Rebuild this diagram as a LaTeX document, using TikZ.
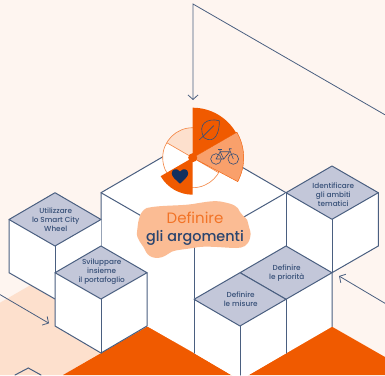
\documentclass[tikz,border=0pt]{standalone}
\usepackage{fontspec}
\setmainfont{Poppins}
\newfontfamily\MediumFont{Poppins Medium}
\usepackage{xcolor}
\usetikzlibrary{arrows.meta}
\definecolor{ColBack}{RGB}{254,245,240}
\definecolor{ColPeach}{RGB}{253,224,205}
\definecolor{ColBlob}{RGB}{251,188,148}
\definecolor{ColOrange}{RGB}{240,90,0}
\definecolor{ColSoft}{RGB}{249,160,107}
\definecolor{ColTop}{RGB}{195,199,217}
\definecolor{ColLine}{RGB}{74,95,128}
\definecolor{ColNavy}{RGB}{18,48,95}
\tikzstyle{Face}=[fill=white,draw=ColLine,line width=1pt,line join=round]
\tikzstyle{TopFace}=[fill=ColTop,draw=ColLine,line width=1pt,line join=round]
\tikzstyle{Edge}=[ColLine,line width=1pt,cap=round]
\tikzstyle{Flow}=[ColLine,line width=.8pt,-{Straight Barb[length=4.5pt,width=10pt]}]
\tikzstyle{Label}=[font=\MediumFont\fontsize{7.3}{9}\selectfont,text=ColNavy!85,align=center,inner sep=0pt]
\tikzstyle{Ring}=[ColOrange!75,semithick]
\tikzstyle{Icon}=[ColNavy!85,semithick,line join=round]
\begin{document}
\begin{tikzpicture}[x=1pt,y=-1pt]
        \useasboundingbox(0,0)rectangle(385,375);
        \clip(0,0)rectangle(385,375);
        \fill[ColBack](0,0)rectangle(385,375);
        \fill[ColPeach](0,302.7)--(55,271)--(147,326)--(63,375)--(0,375)--cycle;
        \fill[ColOrange](147,326.7)--(332,326.7)--(385,357)--(385,375)--(63,375)--cycle;
        % big block
        \path[fill=white](101,192.7)--(193.5,139)--(286,192.7)--(286,353)--(240,380)--(194,353)--(101,300)--cycle;
        \draw[Edge](101,246)--(101,192.7)--(193.5,139)--(286,192.7)--(286,246);
        \draw[Edge](101,192.7)--(193.5,246);
        \draw[Edge](286,192.7)--(193.5,246);
        \draw[Edge](194,246)--(194,353);
        % left blocks
        \path[fill=white](9,219.5)--(9,272.7)--(55,299)--(101,300)--(101,219.5)--cycle;
        \draw[Edge](9,219.5)--(9,272.7)--(55,299);
        \draw[Edge](55,246)--(55,273);
        \draw[TopFace](9,219.5)--(55,192.7)--(101,219.5)--(55,246)--cycle;
        \draw[Face](55,272.7)--(55,326)--(101,353)--(147,326)--(147,272.7)--cycle;
        \draw[Edge](101,299)--(101,353);
        \draw[TopFace](55,272.7)--(101,246)--(147,272.7)--(101,299)--cycle;
        % right blocks
        \path[fill=white](286,192.7)--(332,166)--(378.3,192.7)--(378.3,246)--(332,272.7)--(332,326.7)--(240,380)--(194,353)--(194,299.3)--cycle;
        \draw[Edge](378.3,192.7)--(378.3,246)--(332,272.7)--(332,326.7);
        \draw[Edge](332,219.3)--(332,272.7);
        \draw[Edge](286,192.7)--(286,246);
        \draw[Edge](286,299.3)--(286,353);
        \draw[Edge](240,326)--(240,375);
        \draw[Edge](194,299.3)--(194,353);
        \draw[TopFace](286,192.7)--(332,166)--(378.3,192.7)--(332,219.3)--cycle;
        \draw[TopFace](286,246)--(332,272.7)--(286,299.3)--(240,272.7)--cycle;
        \draw[TopFace](240,272.7)--(286,299.3)--(240,326)--(194,299.3)--cycle;
        \draw[Edge](15,375)--(28.3,368)--(41,375);
        % arrows
        \coordinate(topcorner)at(193,4);
        \coordinate(topstart)at(385,114.8);
        \coordinate(topend)at(193,100);
        \coordinate(leftstart)at(-1,294);
        \coordinate(leftend)at(49,323.3);
        \coordinate(rightstart)at(386,303.9);
        \coordinate(rightend)at(339,276);
        \draw[Flow](topstart)--(topcorner)--(topend);
        \draw[Flow](leftstart)--(leftend);
        \draw[Flow](rightstart)--(rightend);
        % blob
        \fill[ColBlob](146.7,208)..controls(160,205)and(180,206)..(193,204)
            ..controls(205,202)and(215,200)..(223,202)
            ..controls(233,204)and(238,206)..(240,212)
            ..controls(243,217)and(248,218)..(248,223)
            ..controls(249,229)and(252,232)..(250,238)
            ..controls(248,246)and(243,248)..(236,248)
            ..controls(225,248)and(205,245)..(193,248)
            ..controls(180,250)and(172,250)..(168,254)
            ..controls(160,260)and(150,259)..(146,252)
            ..controls(143,244)and(136,240)..(137,232)
            ..controls(138,225)and(138,212)..(146.7,208)--cycle;
        \node[font=\fontsize{15}{16}\selectfont,text=ColOrange!85,inner sep=0pt](topic)at(195,217.5){Definire};
        \node[font=\MediumFont\fontsize{14.4}{16}\selectfont,text=ColNavy!90,inner sep=0pt](topicb)at(195,237.5){gli argomenti};
        % labels
        \node[Label](use)at(55.7,219.3){Utilizzare\\lo Smart City\\Wheel};
        \node[Label](dev)at(101.7,271.7){Sviluppare\\insieme\\il portafoglio};
        \node[Label](find)at(333.3,194.7){Identificare\\gli ambiti\\tematici};
        \node[Label](prio)at(286.7,272.8){Definire\\le priorità};
        \node[Label](meas)at(240.7,299){Definire\\le misure};
        % wheel
        \begin{scope}[shift={(192.7,157.7)},x=1pt,y=1pt]
        \fill[white](0,0)circle(30);
        \fill[ColPeach](0,0)--(90:30)arc(90:150:30)--cycle;
        \draw[Ring](0,0)circle(30);
        \draw[Ring](0,0)--(150:30);
        \draw[Ring](0,0)--(-30:30);
        \fill[ColSoft,draw=ColOrange,thin](0,0)--(30:51)arc(30:-28:51)--cycle;
        \fill[ColOrange](0,0)--(30:50)arc(30:90:50)--cycle;
        \fill[ColOrange](0,0)--(210:37)arc(210:270:37)--cycle;
        \fill[ColOrange](0,0)circle(4.5);
        % leaf
        \draw[Icon](11.3,20)..controls(4,34)and(15,40)..(26.6,37)..controls(27,25)and(22,13)..(11.3,20)--cycle;
        \draw[Icon](6.6,17.7)--(21,32);
        % bike
        \draw[Icon](23.3,-1.3)circle(5.3);
        \draw[Icon](40.6,-1.3)circle(5.3);
        \draw[Icon](23.3,-1.3)--(27.5,6)--(37,6)--(31,-1.3)--cycle;
        \draw[Icon](27.5,6)--(31,-1.3);
        \draw[Icon](40.6,-1.3)--(36.5,9)--(39,9);
        \draw[Icon](25.5,8.5)--(29,8.5);
        \draw[Icon](27.5,6)--(27,8.5);
        % heart
        \fill[ColNavy](-12.7,-26)..controls(-17,-22)and(-21,-19)..(-21,-15.5)
            ..controls(-21,-11)and(-15,-10)..(-12.7,-14)
            ..controls(-10.5,-10)and(-4.5,-11)..(-4.5,-15.5)
            ..controls(-4.5,-19)and(-8.5,-22)..(-12.7,-26)--cycle;
        \end{scope}
    \end{tikzpicture}
\end{document}
